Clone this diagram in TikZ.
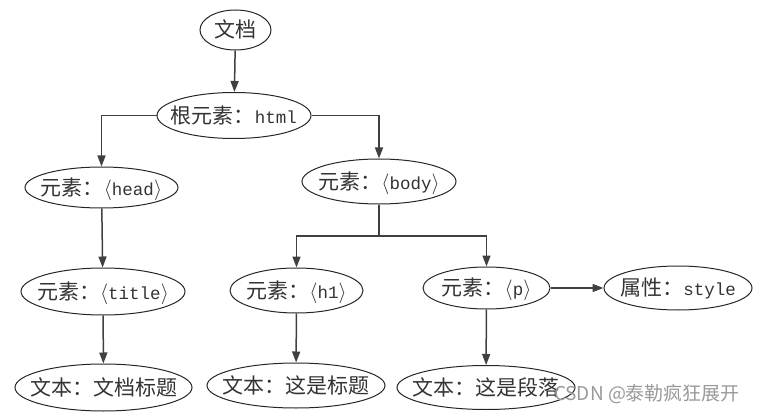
\documentclass[tikz,border=0pt]{standalone}
\usepackage{fontspec}
\setmainfont{Noto Sans CJK SC}
\newfontfamily\latmono{Liberation Mono}
\usetikzlibrary{shapes.geometric,arrows.meta}
\newcommand\mytag[1]{{$\langle$}{\latmono\fontsize{17.5}{22}\selectfont #1}{$\rangle$}}
\newcommand\mylat[1]{{\latmono\fontsize{17.5}{22}\selectfont #1}}
\newcommand\ctext[1]{\makebox[0pt][c]{\raisebox{-0.38em}{#1}}}
\definecolor{txt}{HTML}{333333}
\definecolor{edge}{HTML}{404040}
\tikzset{
  el/.style={ellipse, draw=black!85, line width=1pt, inner sep=0pt,
    text height=0pt, text depth=0pt,
    text=txt, font=\fontsize{21}{24}\selectfont},
  conn/.style={draw=edge, line width=1.5pt,
    -{Triangle[length=11pt,width=8pt]}},
  plain/.style={draw=edge, line width=1.5pt}
}
\begin{document}
\begin{tikzpicture}[x=1pt,y=-1pt]
\useasboundingbox (0,0) rectangle (758,417);
\node[el, minimum width=71, minimum height=40] (doc) at (235.5,30) {\ctext{文档}};
\node[el, minimum width=154, minimum height=46] (root) at (234,115.5) {\ctext{根元素：\mylat{html}}};
\node[el, minimum width=153, minimum height=41] (head) at (101.5,187.5) {\ctext{元素：\mytag{head}}};
\node[el, minimum width=154, minimum height=45] (body) at (379,181.5) {\ctext{元素：\mytag{body}}};
\node[el, minimum width=164, minimum height=47] (title) at (103,291.5) {\ctext{元素：\mytag{title}}};
\node[el, minimum width=133, minimum height=45] (h1) at (296.5,290.5) {\ctext{元素：\mytag{h1}}};
\node[el, minimum width=127, minimum height=42] (p) at (486.5,288) {\ctext{元素：\mytag{p}}};
\node[el, minimum width=148, minimum height=44] (style) at (678,288) {\ctext{属性：\mylat{style}}};
\node[el, minimum width=177, minimum height=47] (t1) at (103.5,387.5) {\ctext{文本：文档标题}};
\node[el, minimum width=178, minimum height=45] (t2) at (296,385.5) {\ctext{文本：这是标题}};
\node[el, minimum width=178, minimum height=44] (t3) at (486,387.5) {\ctext{文本：这是段落}};
\coordinate (j) at (379,236);
\draw[conn] (doc) -- (root);
\draw[conn] (root.west) -| (head.north);
\draw[conn] (root.east) -| (body.north);
\draw[conn] (head) -- (title);
\draw[plain] (body.south) -- (j);
\draw[conn] (j) -| (h1.north);
\draw[conn] (j) -| (p.north);
\draw[conn] (p) -- (style);
\draw[conn] (title) -- (t1);
\draw[conn] (h1) -- (t2);
\draw[conn] (p) -- (t3);
\node[text=black!40, font=\fontsize{19}{22}\selectfont, inner sep=0pt] (wm) at (647,394) {CSDN @泰勒疯狂展开};
\end{tikzpicture}
\end{document}
